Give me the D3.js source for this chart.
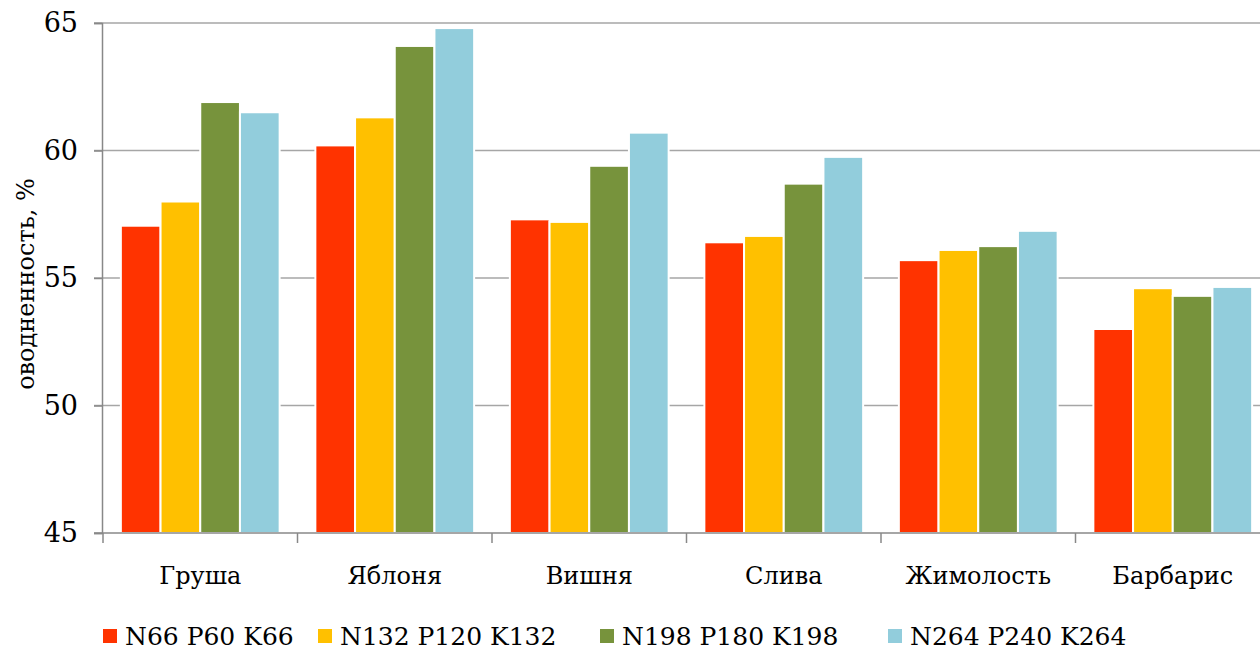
<!DOCTYPE html>
<html>
<head>
<meta charset="utf-8">
<title>оводненность</title>
<style>
  body { margin: 0; background: #fff; }
  svg { display: block; font-family: "DejaVu Serif", serif; }
</style>
</head>
<body>
<svg id="chart" width="1260" height="655"></svg>
<script src="https://cdn.jsdelivr.net/npm/d3@7/dist/d3.min.js"></script>
<script>

var categories = ['Груша', 'Яблоня', 'Вишня', 'Слива', 'Жимолость', 'Барбарис']
var seriesNames = ['N66 P60 K66', 'N132 P120 K132', 'N198 P180 K198', 'N264 P240 K264']
var colors = ['#ff3300', '#ffc000', '#77933c', '#92cddc']

// one array per series, in category order
var s1 = [57.05, 60.2, 57.3, 56.4, 55.7, 53.0]
var s2 = [58.0, 61.3, 57.2, 56.65, 56.1, 54.6]
var s3 = [61.9, 64.1, 59.4, 58.7, 56.25, 54.3]
var s4 = [61.5, 64.8, 60.7, 59.75, 56.85, 54.65]
var series = [s1, s2, s3, s4]

var yTicks = [45, 50, 55, 60, 65]

// note: "top" is a read-only global in browsers, so use other names
var pLeft = 102, pRight = 1270, pTop = 23, pBottom = 533

var svg = d3.select('#chart')

var x0 = d3.scaleBand()
    .domain(categories)
    .range([pLeft + 1, pRight])
    .paddingInner(0)
    .paddingOuter(0)

var x1 = d3.scaleBand()
    .domain(d3.range(series.length))
    .range([0, x0.bandwidth()])
    .paddingInner(0)
    .paddingOuter(0.45)

var y = d3.scaleLinear()
    .domain([45, 65])
    .range([pBottom, pTop])

// gridlines
svg.append('g')
    .selectAll('line')
    .data(yTicks.slice(1))
    .enter().append('line')
    .attr('x1', pLeft - 8)
    .attr('x2', pRight)
    .attr('y1', function(d){ return y(d) })
    .attr('y2', function(d){ return y(d) })
    .attr('stroke', '#a6a6a6')
    .attr('stroke-width', 1.5)

// bars
var groups = svg.append('g')
    .selectAll('g')
    .data(categories)
    .enter().append('g')
    .attr('transform', function(d){ return 'translate(' + x0(d) + ',0)' })

groups.selectAll('rect')
    .data(function(d, i){
        return series.map(function(s, j){ return { j: j, v: s[i] } })
    })
    .enter().append('rect')
    .attr('x', function(d){ return x1(d.j) })
    .attr('width', x1.bandwidth())
    .attr('y', function(d){ return y(d.v) })
    .attr('height', function(d){ return y(45) - y(d.v) })
    .attr('fill', function(d){ return colors[d.j] })
    .attr('stroke', '#fff')
    .attr('stroke-width', 2)

// y axis
var yAxis = d3.axisLeft(y)
    .tickValues(yTicks)
    .tickSize(8)
    .tickPadding(16)

var yg = svg.append('g')
    .attr('transform', 'translate(' + pLeft + ',0)')
    .call(yAxis)
yg.select('.domain').attr('stroke', '#888').attr('stroke-width', 1.5)
yg.selectAll('.tick line').attr('stroke', '#888').attr('stroke-width', 1.5)
yg.selectAll('.tick text')
    .attr('font-size', 27)
    .attr('font-family', '"DejaVu Serif", serif')
    .attr('fill', '#000')

// x axis baseline and category ticks
svg.append('line')
    .attr('x1', pLeft - 8).attr('x2', pRight)
    .attr('y1', pBottom).attr('y2', pBottom)
    .attr('stroke', '#888').attr('stroke-width', 1.5)

svg.append('g')
    .selectAll('line')
    .data(categories)
    .enter().append('line')
    .attr('x1', function(d){ return x0(d) })
    .attr('x2', function(d){ return x0(d) })
    .attr('y1', pBottom)
    .attr('y2', pBottom + 10)
    .attr('stroke', '#888').attr('stroke-width', 1.5)

svg.append('g')
    .selectAll('text')
    .data(categories)
    .enter().append('text')
    .attr('x', function(d){ return x0(d) + x0.bandwidth() / 2 })
    .attr('y', 584)
    .attr('text-anchor', 'middle')
    .attr('font-size', 24)
    .text(function(d){ return d })

// y title
svg.append('text')
    .attr('transform', 'translate(34,' + ((pTop + pBottom) / 2 + 6) + ') rotate(-90)')
    .attr('text-anchor', 'middle')
    .attr('font-size', 24)
    .text('оводненность, %')

// legend
var legendX = [103, 318, 600, 888]
var legend = svg.append('g')
    .selectAll('g')
    .data(seriesNames)
    .enter().append('g')
    .attr('transform', function(d, i){ return 'translate(' + legendX[i] + ',636)' })

legend.append('rect')
    .attr('width', 14).attr('height', 14)
    .attr('y', -7)
    .attr('fill', function(d, i){ return colors[i] })

legend.append('text')
    .attr('x', 22)
    .attr('y', 9)
    .attr('font-size', 25)
    .text(function(d){ return d })

</script>
</body>
</html>
